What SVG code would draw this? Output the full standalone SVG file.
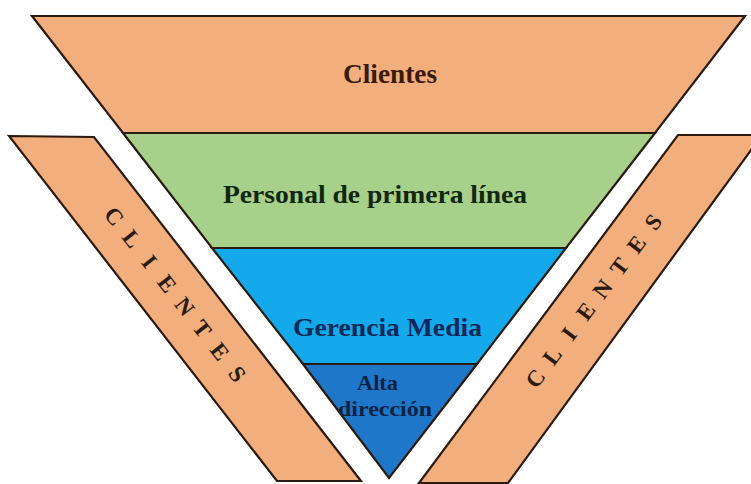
<svg xmlns="http://www.w3.org/2000/svg" width="751" height="484" viewBox="0 0 751 484">
  <style>
    .band { stroke: #2a1a10; stroke-width: 2.2; stroke-linejoin: miter; }
    .orange { fill: #F3AE7E; }
    .green { fill: #A7D18B; }
    .lblue { fill: #13A9EA; }
    .dblue { fill: #1F77C9; }
    .lbl { font-family: "Liberation Serif", "Times New Roman", serif; font-weight: bold; text-anchor: middle; }
    .side { font-family: "Liberation Serif", "Times New Roman", serif; font-size: 23px; font-weight: bold; text-anchor: middle; fill: #2a1a10; }
  </style>
  <rect width="751" height="484" fill="#ffffff"/>

  <g id="side-left">
    <polygon class="band orange" points="9,136 94,137 361,481 277,481"/>
    <text class="side" transform="translate(176,295) rotate(52)" x="-100 -71.4 -42.8 -14.3 14.3 42.8 71.4 100" y="8">CLIENTES</text>
  </g>

  <g id="side-right">
    <polygon class="band orange" points="678,135 762,135 508,483 419,483"/>
    <text class="side" transform="translate(594,300) rotate(-53)" x="-98 -70 -42 -14 14 42 70 98" y="8">CLIENTES</text>
  </g>

  <g id="clientes">
    <polygon class="band orange" points="32,16 745,16 655,133 123,133"/>
    <text class="lbl" x="390" y="83" font-size="27" fill="#3a1a0c" textLength="94" lengthAdjust="spacingAndGlyphs">Clientes</text>
  </g>

  <g id="personal">
    <polygon class="band green" points="123,133 655,133 566,248 212,248"/>
    <text class="lbl" x="375" y="203" font-size="26" fill="#10280f" textLength="304" lengthAdjust="spacingAndGlyphs">Personal de primera línea</text>
  </g>

  <g id="gerencia">
    <polygon class="band lblue" points="212,248 566,248 477,364 303,364"/>
    <text class="lbl" x="387.5" y="336" font-size="26" fill="#0b2a5a" textLength="189" lengthAdjust="spacingAndGlyphs">Gerencia Media</text>
  </g>

  <g id="alta">
    <polygon class="band dblue" points="303,364 477,364 389,478"/>
    <text class="lbl" x="377.5" y="390" font-size="22" fill="#0c2244" textLength="41" lengthAdjust="spacingAndGlyphs">Alta</text>
    <text class="lbl" x="385" y="416" font-size="22" fill="#0c2244" textLength="94" lengthAdjust="spacingAndGlyphs">dirección</text>
  </g>
</svg>
